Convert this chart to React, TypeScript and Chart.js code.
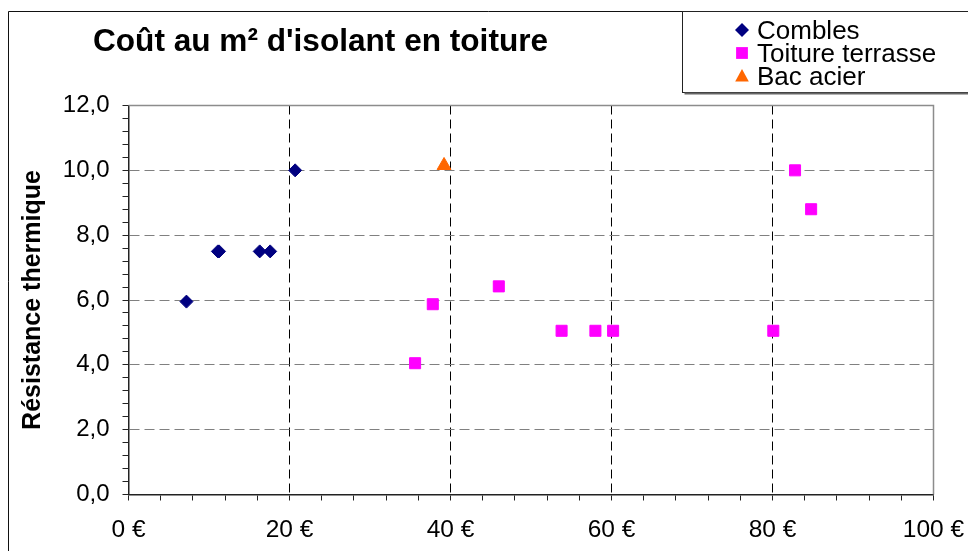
import React, { useEffect, useRef } from 'react';
import { Chart, registerables } from 'chart.js';

Chart.register(...registerables);

// ---- Data ----
const chartTitle = "Coût au m² d'isolant en toiture";
const yAxisTitle = 'Résistance thermique';
const seriesNames = ['Combles', 'Toiture terrasse', 'Bac acier'];

const comblesCost = [7.2, 11.1, 11.25, 16.3, 17.6, 20.7];
const comblesR = [5.95, 7.5, 7.5, 7.5, 7.5, 10.0];

const terrasseCost = [35.6, 37.8, 46.0, 53.8, 58.0, 60.2, 80.1, 82.8, 84.8];
const terrasseR = [4.05, 5.87, 6.42, 5.05, 5.05, 5.05, 5.05, 10.0, 8.8];

const acierCost = [39.2];
const acierR = [10.15];

const xMin = 0;
const xMax = 100;
const xMajorStep = 20;
const xMinorStep = 4;
const yMin = 0;
const yMax = 12;
const yMajorStep = 2;
const yMinorStep = 0.4;

const FONT = "'Liberation Sans', Arial, Helvetica, sans-serif";

const isMultiple = (v: number, step: number) => {
  const r = v / step;
  return Math.abs(r - Math.round(r)) < 1e-6;
};

const toPoints = (xs: number[], ys: number[]) => xs.map((x, i) => ({ x, y: ys[i] }));

function drawMarker(ctx: CanvasRenderingContext2D, style: string, x: number, y: number, color: string) {
  ctx.fillStyle = color;
  ctx.beginPath();
  if (style === 'rectRot') {
    const r = 7;
    ctx.moveTo(x - r, y);
    ctx.lineTo(x, y - r);
    ctx.lineTo(x + r, y);
    ctx.lineTo(x, y + r);
  } else if (style === 'rect') {
    const h = 5.9;
    ctx.rect(x - h, y - h, 2 * h, 2 * h);
  } else {
    ctx.moveTo(x, y - 7);
    ctx.lineTo(x + 6.8, y + 5.5);
    ctx.lineTo(x - 6.8, y + 5.5);
  }
  ctx.closePath();
  ctx.fill();
}

const decorPlugin = {
  id: 'decor',
  beforeDatasetsDraw(chart: any) {
    const { ctx, chartArea: a } = chart;
    ctx.save();
    ctx.strokeStyle = '#8c8c8c';
    ctx.lineWidth = 1.5;
    ctx.beginPath();
    ctx.moveTo(a.left, a.top);
    ctx.lineTo(a.right, a.top);
    ctx.lineTo(a.right, a.bottom);
    ctx.stroke();
    ctx.restore();
  },
  afterDraw(chart: any) {
    const ctx: CanvasRenderingContext2D = chart.ctx;
    ctx.save();
    // outer frame
    ctx.strokeStyle = '#111';
    ctx.lineWidth = 1;
    ctx.beginPath();
    ctx.moveTo(8.5, chart.height + 5);
    ctx.lineTo(8.5, 11.5);
    ctx.lineTo(chart.width + 5, 11.5);
    ctx.stroke();

    // title
    ctx.fillStyle = '#000';
    ctx.font = `bold 31.6px ${FONT}`;
    ctx.textAlign = 'left';
    ctx.textBaseline = 'alphabetic';
    ctx.fillText(chartTitle, 93, 51);

    // legend box
    const lx = 682.5, ly = 11.5, lw = 320, lh = 81;
    ctx.fillStyle = '#fff';
    ctx.fillRect(lx, ly, lw, lh);
    ctx.strokeStyle = '#222';
    ctx.lineWidth = 1;
    ctx.strokeRect(lx, ly, lw, lh);
    ctx.strokeStyle = '#666';
    ctx.lineWidth = 2;
    ctx.beginPath();
    ctx.moveTo(lx + 2, ly + lh + 1);
    ctx.lineTo(lx + lw, ly + lh + 1);
    ctx.stroke();

    ctx.font = `26px ${FONT}`;
    chart.data.datasets.forEach((ds: any, i: number) => {
      const cy = 30 + i * 23;
      drawMarker(ctx, ds.pointStyle, 742, cy, ds.backgroundColor);
      ctx.fillStyle = '#000';
      ctx.fillText(ds.label, 757, cy + 9);
    });
    ctx.restore();
  },
};

export default function App() {
  const canvasRef = useRef<HTMLCanvasElement>(null);

  useEffect(() => {
    const canvas = canvasRef.current;
    if (!canvas) return;
    const chart = new Chart(canvas, {
      type: 'scatter',
      data: {
        datasets: [
          {
            label: seriesNames[0],
            data: toPoints(comblesCost, comblesR),
            pointStyle: 'rectRot',
            backgroundColor: '#000080',
            borderColor: '#000080',
            borderWidth: 1,
            pointRadius: 6.5,
          },
          {
            label: seriesNames[1],
            data: toPoints(terrasseCost, terrasseR),
            pointStyle: 'rect',
            backgroundColor: '#ff00ff',
            borderColor: '#ff00ff',
            borderWidth: 1,
            pointRadius: 7.8,
          },
          {
            label: seriesNames[2],
            data: toPoints(acierCost, acierR),
            pointStyle: 'triangle',
            backgroundColor: '#ff6600',
            borderColor: '#ff6600',
            borderWidth: 1,
            pointRadius: 8,
          },
        ],
      },
      options: {
        responsive: false,
        animation: false,
        devicePixelRatio: 1,
        layout: { padding: { left: 0, top: 105.5, right: 34.5, bottom: 0 } },
        plugins: {
          legend: { display: false },
          title: { display: false },
          tooltip: { enabled: false },
        },
        scales: {
          x: {
            type: 'linear',
            min: xMin,
            max: xMax,
            afterFit: (s: any) => {
              s.height = 56.5;
              s.paddingLeft = 0;
              s.paddingRight = 0;
            },
            ticks: {
              stepSize: xMinorStep,
              autoSkip: false,
              maxRotation: 0,
              padding: 15,
              color: '#000',
              font: { family: FONT, size: 24.5 },
              callback: (v: any) => (isMultiple(Number(v), xMajorStep) ? `${v} €` : ''),
            },
            grid: {
              color: (c: any) => {
                const v = c.tick ? c.tick.value : 0;
                return isMultiple(v, xMajorStep) && v > xMin && v < xMax ? '#000' : 'rgba(0,0,0,0)';
              },
              lineWidth: 1,
              tickColor: '#222',
              tickLength: 6,
              tickWidth: 1,
            },
            border: { display: true, color: '#222', width: 1.5, dash: [9, 5] },
          },
          y: {
            type: 'linear',
            min: yMin,
            max: yMax,
            afterFit: (s: any) => {
              s.width = 128.5;
              s.paddingTop = 0;
              s.paddingBottom = 0;
            },
            ticks: {
              stepSize: yMinorStep,
              autoSkip: false,
              padding: 13,
              color: '#000',
              font: { family: FONT, size: 24 },
              callback: (v: any) =>
                isMultiple(Number(v), yMajorStep) ? Number(v).toFixed(1).replace('.', ',') : '',
            },
            grid: {
              color: (c: any) => {
                const v = c.tick ? c.tick.value : 0;
                return isMultiple(v, yMajorStep) && v > yMin + 1e-6 && v < yMax - 1e-6
                  ? '#808080'
                  : 'rgba(0,0,0,0)';
              },
              lineWidth: 1,
              tickColor: '#222',
              tickLength: 6,
              tickWidth: 1,
            },
            border: { display: true, color: '#222', width: 1.5, dash: [10, 5] },
            title: {
              display: true,
              text: yAxisTitle,
              color: '#000',
              font: { family: FONT, size: 25, weight: 'bold' },
              padding: { top: 18.5, bottom: 0 },
            },
          },
        },
      },
      plugins: [decorPlugin],
    } as any);
    return () => chart.destroy();
  }, []);

  return (
    <div style={{ position: 'fixed', left: 0, top: 0, width: 968, height: 551, background: '#fff' }}>
      <canvas ref={canvasRef} width={968} height={551} style={{ display: 'block' }} />
    </div>
  );
}
